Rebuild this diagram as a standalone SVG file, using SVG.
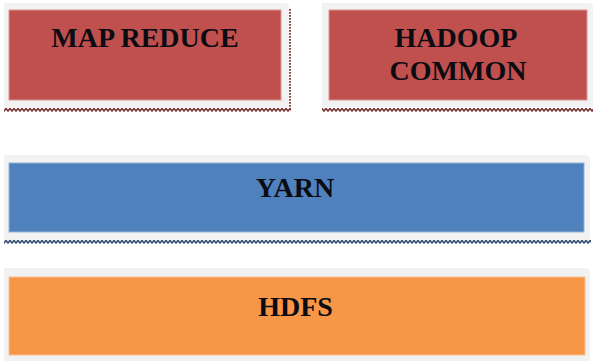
<svg xmlns="http://www.w3.org/2000/svg" width="593" height="361" viewBox="0 0 593 361">
<style>
.frame{fill:#f2f2f2}
.red{fill:#c0504d;stroke:#d99694;stroke-width:1}
.blue{fill:#4f81bd;stroke:#95b3d7;stroke-width:1}
.orange{fill:#f79646;stroke:#fac090;stroke-width:1}
.lbl{font-family:"Liberation Serif","Times New Roman",serif;font-weight:bold;font-size:28px;fill:#0b0b14;text-anchor:middle}
</style>
<defs>
<pattern id="zzR" x="0" y="0" width="4" height="4" patternUnits="userSpaceOnUse">
<path d="M-1,4 L0,3 L2,0.5 L4,3 L5,4" fill="none" stroke="#7b3533" stroke-width="1.7"/>
</pattern>
<pattern id="zzB" x="0" y="0" width="4" height="4" patternUnits="userSpaceOnUse">
<path d="M-1,4 L0,3 L2,0.5 L4,3 L5,4" fill="none" stroke="#3a5275" stroke-width="1.7"/>
</pattern>
</defs>
<g id="mapreduce">
<path class="frame" d="M4,3 H284 Q289,3 289,8 V108 H4 Z"/>
<rect class="red" x="9" y="10" width="272" height="90"/>
<line x1="290" y1="9" x2="290" y2="107" stroke="#7b3533" stroke-width="1.8" stroke-dasharray="1.8,1.2"/>
<rect x="4" y="108" width="287" height="4" fill="url(#zzR)"/>
<text class="lbl" x="145" y="47">MAP REDUCE</text>
</g>
<g id="hadoopcommon">
<path class="frame" d="M322,3 H588 Q593,3 593,8 V107 H322 Z"/>
<rect class="red" x="329" y="10" width="258" height="90"/>
<rect x="322" y="108" width="271" height="4" fill="url(#zzR)"/>
<text class="lbl" x="456" y="47">HADOOP</text>
<text class="lbl" x="458" y="80">COMMON</text>
</g>
<g id="yarn">
<path class="frame" d="M4,155 H585 Q590,155 590,160 V241 H4 Z"/>
<rect class="blue" x="9" y="163" width="575" height="69"/>
<rect x="4" y="240" width="587" height="4" fill="url(#zzB)"/>
<text class="lbl" x="295" y="197">YARN</text>
</g>
<g id="hdfs">
<path class="frame" d="M4,268 H585 Q590,268 590,273 V361 H4 Z"/>
<rect class="orange" x="9" y="277" width="576" height="78"/>
<text class="lbl" x="295.5" y="316">HDFS</text>
</g>
<g id="connectors"></g>
</svg>
